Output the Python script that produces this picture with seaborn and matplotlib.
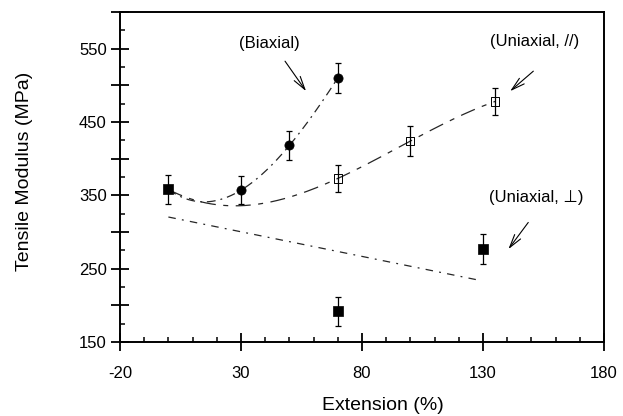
import numpy as np
import matplotlib
matplotlib.use("Agg")
import matplotlib.pyplot as plt
from matplotlib.ticker import MultipleLocator
import seaborn as sns

# ---------------- data ----------------
base_ext = [0]
base_mod = [358]
base_err = [20]

biax_ext = [30, 50, 70]
biax_mod = [357, 418, 510]
biax_err = [19, 20, 20]

upar_ext = [70, 100, 135]
upar_mod = [373, 424, 478]
upar_err = [19, 20, 19]

uperp_ext = [70, 130]
uperp_mod = [192, 277]
uperp_err = [20, 20]

x_ticks = [-20, 30, 80, 130, 180]
y_ticks = [150, 250, 350, 450, 550]

label_biax = "(Biaxial)"
label_upar = "(Uniaxial, //)"
label_uperp = "(Uniaxial, \u22a5)"

# ---------------- style ----------------
sns.set_theme(style="ticks")
plt.rcParams['font.family'] = ['Liberation Sans', 'DejaVu Sans']
plt.rcParams['text.color'] = 'black'
plt.rcParams['axes.labelcolor'] = 'black'

fig = plt.figure(figsize=(6.23, 4.16), dpi=100)
ax = fig.add_axes([0.1926, 0.1779, 0.7769, 0.7933])


def fit_curve(xs, ys, deg, x0, x1):
    c = np.polyfit(xs, ys, deg)
    xx = np.linspace(x0, x1, 300)
    return xx, np.polyval(c, xx)


line_col = '0.15'
# biaxial trend (dash-dot)
bx, by = fit_curve(base_ext + biax_ext, base_mod + biax_mod, 3, 0, 70)
sns.lineplot(x=bx, y=by, ax=ax, color=line_col, lw=0.9, sort=False, estimator=None)
ax.lines[-1].set_dashes([7, 4, 1.5, 4])

# uniaxial parallel trend (long-short dash)
px_, py_ = fit_curve(base_ext + upar_ext, base_mod + upar_mod, 3, 0, 135)
sns.lineplot(x=px_, y=py_, ax=ax, color=line_col, lw=0.9, sort=False, estimator=None)
ax.lines[-1].set_dashes([12, 6, 4, 6])

# uniaxial perpendicular trend (linear fit, dash-dot)
qx, qy = fit_curve(base_ext + uperp_ext, base_mod + uperp_mod, 1, 0, 129)
sns.lineplot(x=qx, y=qy, ax=ax, color=line_col, lw=0.9, sort=False, estimator=None)
ax.lines[-1].set_dashes([6, 5, 1.5, 5])

# error bars
eb_kw = dict(fmt='none', ecolor='black', elinewidth=0.9, capsize=2.4, capthick=0.9, zorder=3)
ax.errorbar(base_ext, base_mod, yerr=base_err, **eb_kw)
ax.errorbar(biax_ext, biax_mod, yerr=biax_err, **eb_kw)
ax.errorbar(upar_ext, upar_mod, yerr=upar_err, **eb_kw)
ax.errorbar(uperp_ext, uperp_mod, yerr=uperp_err, **eb_kw)

# markers
sns.scatterplot(x=base_ext + uperp_ext, y=base_mod + uperp_mod, ax=ax, marker='s', s=44,
                color='black', edgecolor='black', linewidth=0.5, zorder=4)
sns.scatterplot(x=biax_ext, y=biax_mod, ax=ax, marker='o', s=44,
                color='black', edgecolor='black', linewidth=0.5, zorder=4)
sns.scatterplot(x=upar_ext, y=upar_mod, ax=ax, marker='s', s=34,
                facecolors='none', edgecolor='black', linewidth=0.7, zorder=4)

# annotations
fs_ann = 12
arrow_kw = dict(arrowstyle='->,head_length=0.8,head_width=0.22', color='black',
                lw=0.8, shrinkA=0, shrinkB=0)
ax.text(41.7, 556.7, label_biax, ha='center', va='center', fontsize=fs_ann)
ax.annotate('', xy=(56.9, 492), xytext=(48.2, 532.9), arrowprops=arrow_kw)
ax.text(151.2, 560.3, label_upar, ha='center', va='center', fontsize=fs_ann)
ax.annotate('', xy=(141.2, 492), xytext=(150.8, 519.3), arrowprops=arrow_kw)
ax.text(152.1, 347.4, label_uperp, ha='center', va='center', fontsize=fs_ann)
ax.annotate('', xy=(140.5, 276.6), xytext=(148.7, 313), arrowprops=arrow_kw)

# axes
ax.set_xlim(x_ticks[0], x_ticks[-1])
ax.set_ylim(150, 600)
ax.set_xticks(x_ticks)
ax.set_xticklabels([str(v) for v in x_ticks])
ymajor = list(range(150, 601, 50))
ax.set_yticks(ymajor)
ax.set_yticklabels([str(v) if v in y_ticks else '' for v in ymajor])
ax.xaxis.set_minor_locator(MultipleLocator(10))
ax.yaxis.set_minor_locator(MultipleLocator(25))

ax.tick_params(which='major', direction='inout', length=13, width=1.3, colors='black',
               labelsize=12)
ax.tick_params(axis='x', which='major', pad=10.5)
ax.tick_params(axis='y', which='major', pad=3)
ax.tick_params(which='minor', direction='in', length=3.8, width=1.1, colors='black')
for sp in ax.spines.values():
    sp.set_linewidth(1.4)
    sp.set_color('black')

ax.set_xlabel('Extension (%)', fontsize=14)
ax.set_ylabel('Tensile Modulus (MPa)', fontsize=14)
ax.xaxis.set_label_coords(0.544, -0.166)
ax.yaxis.set_label_coords(-0.18, 0.518)

fig.savefig('out.png', dpi=100)
